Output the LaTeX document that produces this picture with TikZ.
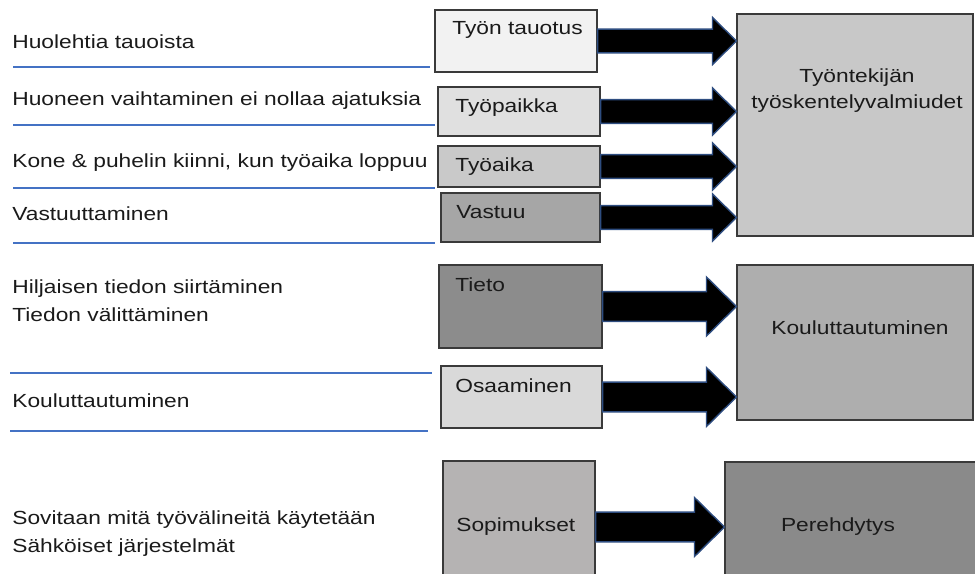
\documentclass[tikz,border=0pt]{standalone}
\usepackage{fontspec}
\setmainfont{Liberation Sans}[FakeStretch=1.2]
\usepackage{xcolor}
\usepackage{tikz}
\usetikzlibrary{calc}

\definecolor{ink}{HTML}{1A1A1A}
\definecolor{boxline}{HTML}{3A3A3A}
\definecolor{ruleblue}{HTML}{4472C4}
\definecolor{arrowedge}{HTML}{2E4D80}
\definecolor{grayA}{HTML}{F2F2F2}
\definecolor{grayB}{HTML}{E0E0E0}
\definecolor{grayC}{HTML}{C9C9C9}
\definecolor{grayD}{HTML}{A6A6A6}
\definecolor{grayE}{HTML}{8C8C8C}
\definecolor{grayF}{HTML}{D9D9D9}
\definecolor{grayG}{HTML}{B5B3B3}
\definecolor{grayH}{HTML}{C8C8C8}
\definecolor{grayI}{HTML}{AEAEAE}
\definecolor{grayJ}{HTML}{8A8A8A}

% block arrow from the east side of #2 to the west side of #3, #1 = size factor
\newcommand{\blockarrow}[3][1]{%
  \draw[blockarr] let \p1=(#2.east), \p2=($(#3.west |- #2.east)$),
      \n1={#1*6.8pt}, \n2={#1*13.4pt}, \n3={#1*13.6pt} in
    (\x1,{\y1+\n1}) -- ({\x2-\n3},{\y1+\n1}) -- ({\x2-\n3},{\y1+\n2})
    -- (\x2,\y1) -- ({\x2-\n3},{\y1-\n2}) -- ({\x2-\n3},{\y1-\n1})
    -- (\x1,{\y1-\n1}) -- cycle;}

\begin{document}
\begin{tikzpicture}[x=0.02cm, y=-0.02cm, font=\fontsize{10.8}{16}\selectfont,
    box/.style={draw=boxline, line width=0.7pt, inner sep=0pt},
    lbl/.style={anchor=base west, inner sep=0pt, text=ink},
    note/.style={anchor=base west, inner sep=0pt, text=ink, align=left},
    rule/.style={draw=ruleblue, line width=0.6pt},
    blockarr/.style={fill=black, draw=arrowedge, line width=0.8pt, line join=miter}]

\useasboundingbox (0,0) rectangle (975,574);

% ── Left column: notes and rules ───────────────────────────────
\node[note] (n1) at (12,49) {Huolehtia tauoista};
\node[note] (n2) at (12,106) {Huoneen vaihtaminen ei nollaa ajatuksia};
\node[note] (n3) at (12,168) {Kone \& puhelin kiinni, kun työaika loppuu};
\node[note] (n4) at (12,221) {Vastuuttaminen};
\node[note] (n5) at (12,322) {Hiljaisen tiedon siirtäminen\\Tiedon välittäminen};
\node[note] (n6) at (12,408) {Kouluttautuminen};
\node[note] (n7) at (12,553) {Sovitaan mitä työvälineitä käytetään\\Sähköiset järjestelmät};

\draw[rule] (13,67) -- (430,67);
\draw[rule] (13,125) -- (435,125);
\draw[rule] (13,188) -- (435,188);
\draw[rule] (13,243) -- (435,243);
\draw[rule] (10,373) -- (432,373);
\draw[rule] (10,431) -- (428,431);

% ── Middle column: topics ──────────────────────────────────────
\node[box, fill=grayA, minimum width=3.24cm, minimum height=1.24cm] (tauotus) at (516,41) {};
\node[lbl] at (452,35) {Työn tauotus};

\node[box, fill=grayB, minimum width=3.24cm, minimum height=0.98cm] (paikka) at (519,111.5) {};
\node[lbl] at (455,113) {Työpaikka};

\node[box, fill=grayC, minimum width=3.24cm, minimum height=0.82cm] (aika) at (519,166.5) {};
\node[lbl] at (455,172) {Työaika};

\node[box, fill=grayD, minimum width=3.18cm, minimum height=0.98cm] (vastuu) at (520.5,217.5) {};
\node[lbl] at (456,219) {Vastuu};

\node[box, fill=grayE, minimum width=3.26cm, minimum height=1.66cm] (tieto) at (520.5,306.5) {};
\node[lbl] at (455,292) {Tieto};

\node[box, fill=grayF, minimum width=3.22cm, minimum height=1.24cm] (osaaminen) at (521.5,397) {};
\node[lbl] at (455,393) {Osaaminen};

\node[box, fill=grayG, minimum width=3.04cm, minimum height=2.64cm] (sopimukset) at (519,527) {};
\node[lbl] at (456,532) {Sopimukset};

% ── Right column: outcomes ─────────────────────────────────────
\node[box, fill=grayH, minimum width=4.72cm, minimum height=4.44cm] (valmiudet) at (855,125) {};
\node[text=ink, align=center, font=\fontsize{10.8}{14.7}\selectfont] at (857,91)
    {Työntekijän\\työskentelyvalmiudet};

\node[box, fill=grayI, minimum width=4.72cm, minimum height=3.10cm] (koulutus) at (855,342.5) {};
\node[text=ink] at (860,328) {Kouluttautuminen};

\node[box, fill=grayJ, minimum width=5.10cm, minimum height=2.56cm] (perehdytys) at (852.5,526) {};
\node[text=ink] at (838,527) {Perehdytys};

% ── Block arrows ───────────────────────────────────────────────
\blockarrow{tauotus}{valmiudet}
\blockarrow{paikka}{valmiudet}
\blockarrow{aika}{valmiudet}
\blockarrow{vastuu}{valmiudet}
\blockarrow[1.25]{tieto}{koulutus}
\blockarrow[1.25]{osaaminen}{koulutus}
\blockarrow[1.25]{sopimukset}{perehdytys}

\end{tikzpicture}
\end{document}
